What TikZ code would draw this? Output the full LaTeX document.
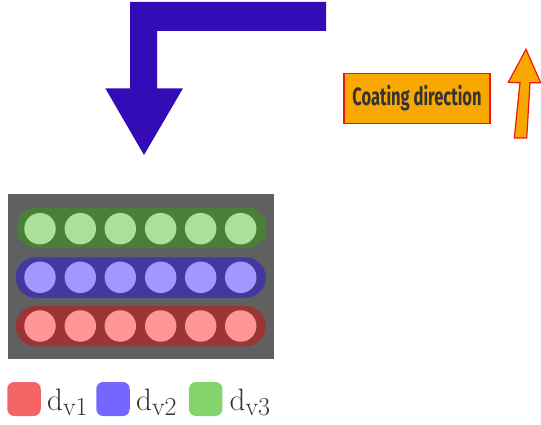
\documentclass[tikz,border=0pt]{standalone}
\usepackage{fontspec}
\newfontfamily\labelfont{Fira Sans}
\definecolor{arrowblue}{RGB}{51,12,181}
\definecolor{coatorange}{RGB}{248,168,0}
\definecolor{coatred}{RGB}{240,20,20}
\definecolor{plate}{RGB}{96,96,96}
\definecolor{rowgreen}{RGB}{74,127,55}
\definecolor{rowblue}{RGB}{67,56,160}
\definecolor{rowred}{RGB}{154,53,53}
\definecolor{dotgreen}{RGB}{172,224,154}
\definecolor{dotblue}{RGB}{163,151,255}
\definecolor{dotred}{RGB}{255,149,149}
\definecolor{legred}{RGB}{246,101,101}
\definecolor{legblue}{RGB}{117,102,255}
\definecolor{leggreen}{RGB}{131,212,107}
\definecolor{txtgray}{RGB}{51,51,51}
\tikzset{
  rowbox/.style={rectangle, rounded corners=20pt, minimum width=250pt, minimum height=40.5pt, inner sep=0pt},
  dot/.style={circle, minimum size=31.5pt, inner sep=0pt},
  legbox/.style={rectangle, rounded corners=7pt, minimum width=33.5pt, minimum height=34pt, inner sep=0pt},
  legtext/.style={anchor=base west, inner sep=0pt, text=txtgray, font=\fontsize{31}{33}\selectfont},
}
\newcommand{\dlabel}[1]{d\raisebox{-5.5pt}{\fontsize{26}{28}\selectfont v#1}}
\begin{document}
\begin{tikzpicture}[x=1pt,y=-1pt]
\useasboundingbox (0,0) rectangle (541,425);
% bent arrow
\fill[arrowblue] (130,2) -- (326,2) -- (326,31) -- (157,31) -- (157,88.3) -- (183,88.3) -- (144,155) -- (105.3,88.3) -- (130,88.3) -- cycle;
% coating label
\node[draw=coatred, line width=1.2pt, fill=coatorange, minimum width=146pt, minimum height=50pt, inner sep=0pt] (coat) at (417,98.3)
  {\labelfont\bfseries\color{txtgray}\scalebox{0.66}[1]{\fontsize{25}{28}\selectfont Coating direction}};
% up arrow
\draw[coatred, line width=1.2pt, fill=coatorange, line join=miter] (526,49.3) -- (540.7,82.8) -- (530,82.8) -- (526.7,138) -- (514.3,138) -- (520,82.8) -- (508.3,82.3) -- cycle;
% plate
\fill[plate] (8,194) rectangle (274,358.7);
\node[rowbox, fill=rowgreen] (rowg) at (141.7,227.8) {};
\node[rowbox, fill=rowblue] (rowb) at (140.7,277.5) {};
\node[rowbox, fill=rowred] (rowr) at (140.7,326) {};
\foreach \i/\x in {1/40,2/80.3,3/120.3,4/160.7,5/200.7,6/240.7}{
  \node[dot, fill=dotgreen] (g\i) at (\x,228.7) {};
  \node[dot, fill=dotblue] (b\i) at (\x,277.3) {};
  \node[dot, fill=dotred] (r\i) at (\x,326) {};
}
% legend
\node[legbox, fill=legred] (l1) at (24,399) {};
\node[legtext] (t1) at (47,410) {\dlabel{1}};
\node[legbox, fill=legblue] (l2) at (113,399) {};
\node[legtext] (t2) at (136,410) {\dlabel{2}};
\node[legbox, fill=leggreen] (l3) at (205.7,399) {};
\node[legtext] (t3) at (229.5,410) {\dlabel{3}};
\end{tikzpicture}
\end{document}
